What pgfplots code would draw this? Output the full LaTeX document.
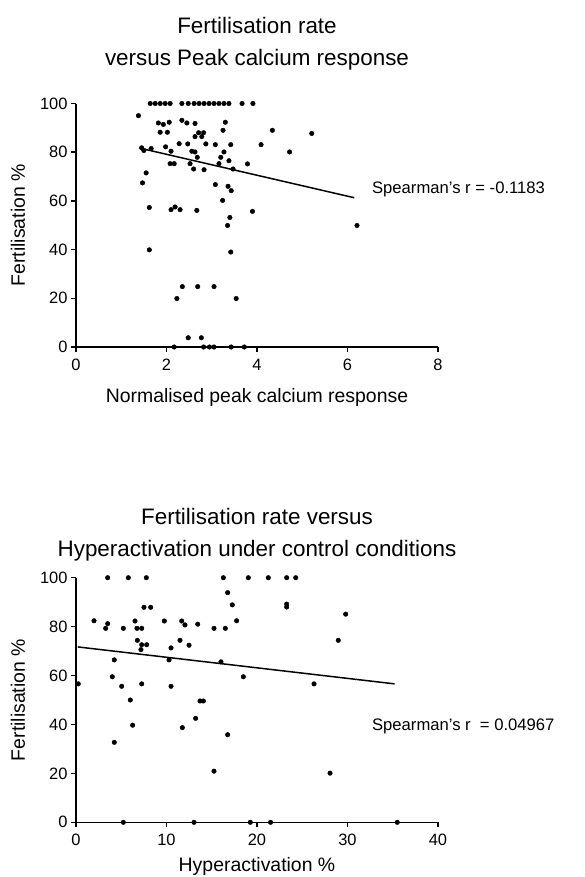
\documentclass[border=0pt]{standalone}
\usepackage{pgfplots}
\pgfplotsset{compat=1.18}
\usepackage{fontspec}
\setmainfont{Liberation Sans}

\pgfplotsset{
  prism/.style={
    scale only axis,
    axis lines=left,
    axis line style={-, line width=1.5pt, black},
    tick align=outside,
    major tick length=5pt,
    tick style={black, line width=1.5pt},
    enlargelimits=false,
    clip=false,
    ticklabel style={font=\fontsize{16.5}{19}\selectfont},
    xticklabel style={inner sep=0pt, yshift=-7pt},
    /pgf/number format/assume math mode=true,
    label style={font=\fontsize{19.5}{23}\selectfont},
    title style={font=\fontsize{22.5}{32}\selectfont, align=center, inner sep=0pt},
    ylabel style={at={(axis description cs:-0.1602,0.5)}, anchor=center},
    every axis plot/.append style={black},
  },
  dots/.style={only marks, mark=*, mark size=2.3pt, mark options={fill=black, draw=black}},
  fit/.style={no marks, line width=1.5pt},
}

\begin{document}
\begin{tikzpicture}
\useasboundingbox (0,0) rectangle (585bp,-877bp);

% ---------------- Top panel ----------------
\begin{axis}[prism,
  at={(76bp,-347bp)}, anchor=south west,
  width=362bp, height=243.5bp,
  xmin=0, xmax=8, ymin=0, ymax=100,
  xtick={0,2,4,6,8}, ytick={0,20,40,60,80,100},
  title={Fertilisation rate\\versus Peak calcium response},
  title style={at={(axis description cs:0.5,1)}, anchor=south, yshift=27bp},
  xlabel={Normalised peak calcium response},
  xlabel style={at={(axis description cs:0.5,0)}, anchor=base, yshift=-55bp},
  ylabel={Fertilisation \%},
]
\addplot[dots] coordinates {
(1.64,100)(1.75,100)(1.86,100)(1.97,100)(2.08,100)(2.34,100)(2.48,100)(2.61,100)
(2.72,100)(2.83,100)(2.94,100)(3.05,100)(3.16,100)(3.27,100)(3.38,100)(3.67,100)(3.91,100)
(1.38,95)
(1.82,92)(1.93,91.4)(2.06,92.3)(2.34,93.1)(2.45,92)(2.63,91.8)(3.30,92.3)
(1.86,88.2)(2.02,88.2)(2.71,88)(2.78,86.4)(2.82,88)(2.63,86.4)(3.25,89)(4.34,89)(5.21,87.7)
(1.45,81.8)(1.50,80.7)(1.66,81.5)(1.98,82.2)(2.10,80.4)(2.28,83.5)(2.47,83.4)(2.56,80.4)
(2.63,80.1)(2.87,83.4)(3.08,83.1)(3.42,83.1)(4.09,83.1)(4.72,80.1)(3.27,80.1)
(2.68,77.9)(3.20,77.9)(3.38,76.5)
(2.08,75.3)(2.17,75.3)(2.52,75.3)(3.16,75.3)(3.79,75.2)
(2.60,73.1)(2.83,72.8)(3.47,73.1)
(1.55,71.5)
(1.47,67.4)(3.08,66.7)(3.36,66)(3.43,64.2)
(3.24,60.2)
(1.62,57.3)(2.10,56.4)(2.19,57.5)(2.30,56.4)(2.67,56.1)(3.90,55.7)
(3.40,53.2)(3.35,49.9)(6.21,49.9)
(1.62,39.9)(3.42,39)
(2.35,24.8)(2.69,24.8)(3.05,24.8)
(2.23,19.9)(3.54,19.9)
(2.48,3.8)(2.77,3.8)
(2.17,0)(2.82,0)(2.95,0)(3.05,0)(3.43,0)(3.72,0)
};
\addplot[fit] coordinates {(1.45,81.5)(6.15,61.3)};
\node[anchor=base west, inner sep=0pt, font=\fontsize{16.7}{19}\selectfont]
  at (axis cs:6.54,63.1) {Spearman's r = -0.1183};
\end{axis}

% ---------------- Bottom panel ----------------
\begin{axis}[prism,
  at={(76bp,-822.3bp)}, anchor=south west,
  width=362bp, height=244.6bp,
  xmin=0, xmax=40, ymin=0, ymax=100,
  xtick={0,10,20,30,40}, ytick={0,20,40,60,80,100},
  title={Fertilisation rate versus\\Hyperactivation under control conditions},
  title style={at={(axis description cs:0.5,1)}, anchor=south, yshift=10bp},
  xlabel={Hyperactivation \%},
  xlabel style={at={(axis description cs:0.5,0)}, anchor=base, yshift=-49bp},
  ylabel={Fertilisation \%},
]
\addplot[dots] coordinates {
(3.50,100)(5.78,100)(7.77,100)(16.28,100)(19.04,100)(21.25,100)(23.28,100)(24.28,100)
(16.76,93.9)
(7.51,87.9)(8.25,87.9)(17.27,88.9)(23.28,89.2)(23.28,88.0)
(29.8,85.1)
(1.99,82.4)(3.50,81.2)(3.28,79.3)(5.23,79.3)(6.52,82.3)(6.74,79.3)(7.26,79.3)(9.76,82.3)
(11.68,82.3)(12.04,80.7)(13.45,81)(17.75,82.4)(15.25,79.3)(16.5,79.3)
(6.78,74.4)(7.26,72.6)(7.81,72.6)(7.18,70.6)(11.49,74.4)(12.49,72.4)(10.50,71.3)(28.98,74.4)
(4.23,66.4)(10.28,66.4)(16.02,65.6)
(0.25,56.6)(4.01,59.5)(5.05,55.6)(7.26,56.6)(10.50,55.6)(18.49,59.5)(26.3,56.6)
(6.0,50)(13.7,49.6)(14.07,49.6)
(4.23,32.7)(6.26,39.7)(11.75,38.7)(13.22,42.5)(16.76,35.8)
(15.25,20.9)(28.07,20.1)
(5.23,0)(13.04,0)(19.26,0)(21.5,0)(35.5,0)
};
\addplot[fit] coordinates {(0.2,71.7)(35.2,56.6)};
\node[anchor=base west, inner sep=0pt, font=\fontsize{16.7}{19}\selectfont]
  at (axis cs:32.7,37.4) {Spearman's r\ \ = 0.04967};
\end{axis}
\end{tikzpicture}
\end{document}
